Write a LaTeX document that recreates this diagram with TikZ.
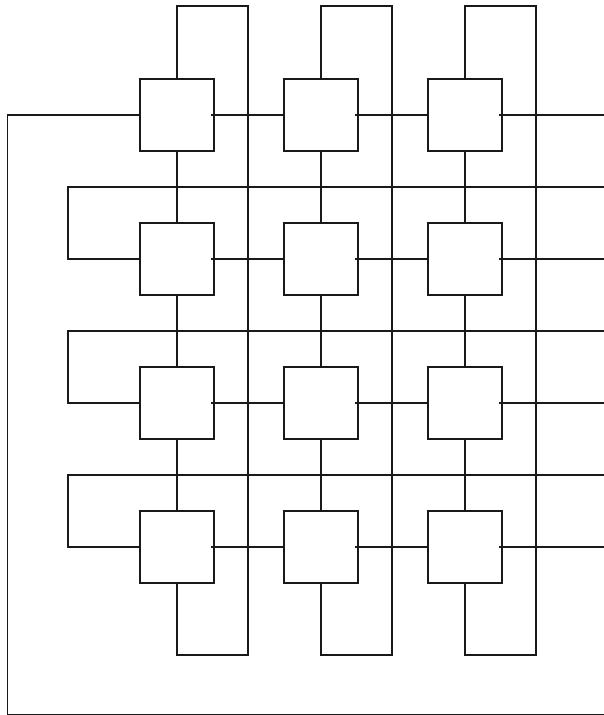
\documentclass[tikz,border=0pt]{standalone}
\begin{document}
\begin{tikzpicture}[x=1pt,y=-1pt,
  wire/.style={line width=1.8pt,draw=black!90,line join=miter},
  cell/.style={draw=black!90,line width=1.8pt,minimum width=74pt,minimum height=72pt,inner sep=0pt,outer sep=0pt,fill=white}]
\fill[white] (0,0) rectangle (604,715);
\useasboundingbox (0,0) rectangle (604,715);
% boxes
\foreach \r/\yy in {1/115,2/259,3/403,4/547}{
  \foreach \c/\xx in {1/177,2/321,3/465}{
    \node[cell] (b\r\c) at (\xx,\yy) {};
  }
}
% column loops
\foreach \c/\xx/\xr in {1/177/248,2/321/392,3/465/536}{
  \coordinate (ct\c) at (\xx,6);
  \coordinate (ctr\c) at (\xr,6);
  \coordinate (cbr\c) at (\xr,655);
  \coordinate (cb\c) at (\xx,655);
  \draw[wire] (b1\c.north) -- (ct\c) -- (ctr\c) -- (cbr\c) -- (cb\c) -- (b4\c.south);
  \draw[wire] (b1\c.south) -- (b2\c.north);
  \draw[wire] (b2\c.south) -- (b3\c.north);
  \draw[wire] (b3\c.south) -- (b4\c.north);
}
% horizontal links
\foreach \r/\yy in {1/115,2/259,3/403,4/547}{
  \coordinate (re\r) at (604,\yy);
  \draw[wire] ([xshift=-3pt]b\r1.east) -- (b\r2.west);
  \draw[wire] ([xshift=-3pt]b\r2.east) -- (b\r3.west);
  \draw[wire] ([xshift=-3pt]b\r3.east) -- (re\r);
}
% row 1 wrap
\coordinate (la) at (7.5,115);
\coordinate (lb) at (7.5,715.2);
\coordinate (lc) at (610,715.2);
\draw[wire] (b11.west) -- (la) -- (lb) -- (lc);
% row loops
\foreach \r/\yy/\yu in {2/259/187,3/403/331,4/547/475}{
  \coordinate (rl\r) at (68,\yy);
  \coordinate (rlu\r) at (68,\yu);
  \coordinate (rru\r) at (604,\yu);
  \draw[wire] (b\r1.west) -- (rl\r) -- (rlu\r) -- (rru\r);
}
\end{tikzpicture}
\end{document}
